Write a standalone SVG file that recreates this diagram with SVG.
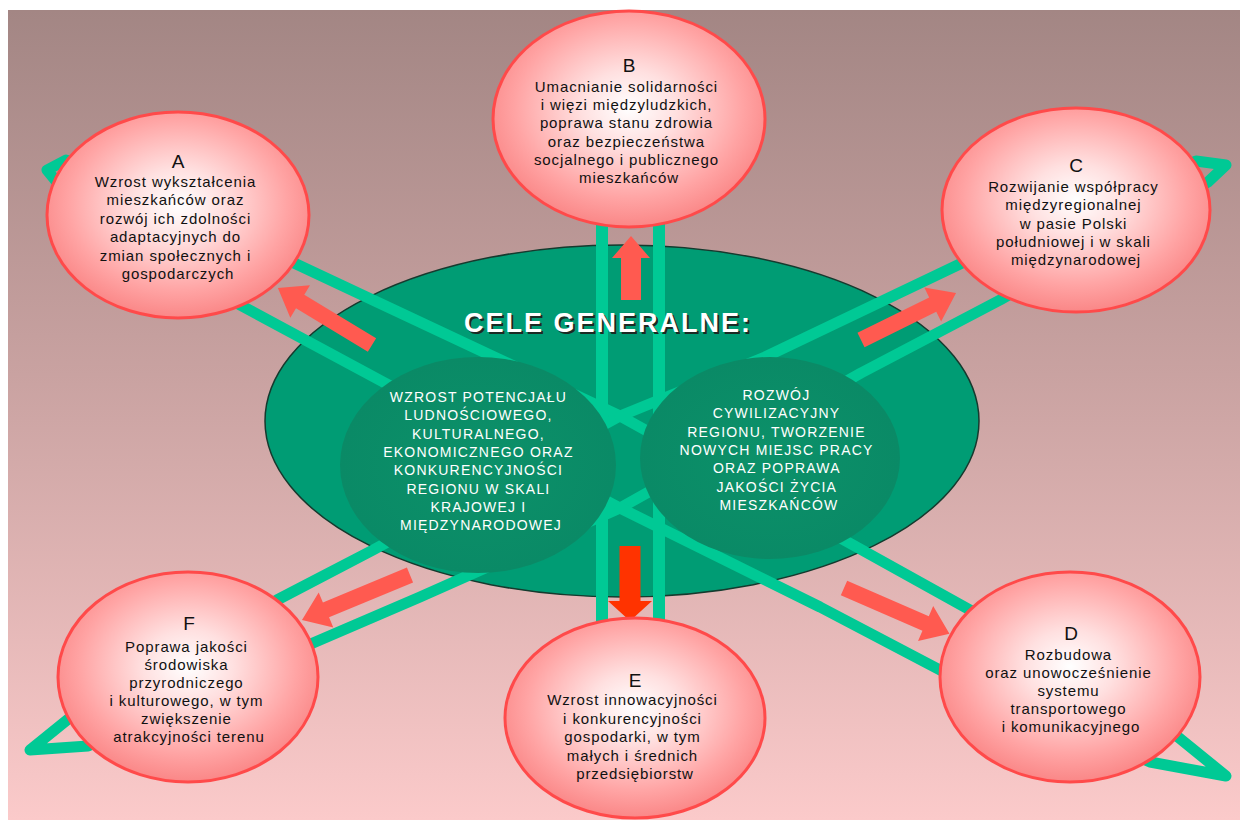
<svg xmlns="http://www.w3.org/2000/svg" width="1240" height="820" viewBox="0 0 1240 820">
<defs>
<linearGradient id="bg" x1="0" y1="0" x2="0" y2="1">
<stop offset="0" stop-color="#a38684"/>
<stop offset="0.45" stop-color="#c9a2a1"/>
<stop offset="1" stop-color="#fbcaca"/>
</linearGradient>
<radialGradient id="pink" cx="50%" cy="45%" r="58%">
<stop offset="0" stop-color="#ffffff"/>
<stop offset="0.3" stop-color="#ffe0e0"/>
<stop offset="0.72" stop-color="#ffa4a4"/>
<stop offset="1" stop-color="#f98080"/>
</radialGradient>
<radialGradient id="inner" cx="50%" cy="50%" r="50%">
<stop offset="0" stop-color="#0c9169"/>
<stop offset="1" stop-color="#0a8a66"/>
</radialGradient>
<style>
.goal{fill:url(#pink);stroke:#ff4a4a;stroke-width:3}
.lbl{font-family:"Liberation Sans",Arial,sans-serif;font-size:19px;fill:#111;text-anchor:middle}
.txt{font-family:"Liberation Sans",Arial,sans-serif;font-size:15px;letter-spacing:0.9px;fill:#111;text-anchor:middle}
.wtxt{font-family:"Liberation Sans",Arial,sans-serif;font-size:14px;letter-spacing:1.2px;fill:#ffffff;text-anchor:middle}
.loop{fill:none;stroke:#00c995;stroke-width:11;stroke-linejoin:round;stroke-linecap:round}
.vert{fill:none;stroke:#00c995;stroke-width:12}
.arr{fill:#ff5a50}
.arrE{fill:#ff3300}
.title{font-family:"Liberation Sans",Arial,sans-serif;font-size:27px;font-weight:bold;letter-spacing:2px;text-anchor:middle}
</style>
</defs>

<rect x="0" y="0" width="1240" height="820" fill="#ffffff"/>
<rect x="8" y="10" width="1232" height="810" fill="url(#bg)"/>

<g id="center-ellipse">
<ellipse cx="622" cy="421" rx="357" ry="176" fill="#009c74" stroke="#153a2e" stroke-width="1.5"/>
</g>

<g id="connectors">
<path class="loop" d="M620,416 L490,355 L294,263 L66,160 L47,170 L60,186 L240,305 L385,383 L620,508"/>
<path class="loop" d="M620,416 L765,357 L962,263 L1196,161 L1226,165 L1208,182 L1000,300 L861,373 L620,508"/>
<path class="loop" d="M620,416 L373,550 L277,600 L72,716 L30,750 L88,746 L313,643 L420,597 L620,508"/>
<path class="loop" d="M620,416 L853,545 L970,610 L1178,737 L1226,776 L1150,762 L940,670 L820,607 L620,508"/>
<path class="vert" d="M602,215 L602,630"/>
<path class="vert" d="M659,215 L659,630"/>
</g>

<g id="goal-left">
<ellipse cx="478" cy="465" rx="138" ry="108" fill="url(#inner)"/>
<text class="wtxt">
<tspan x="481" y="402">WZROST POTENCJAŁU</tspan>
<tspan x="481" y="420.3">LUDNOŚCIOWEGO,</tspan>
<tspan x="481" y="438.6">KULTURALNEGO,</tspan>
<tspan x="481" y="456.9">EKONOMICZNEGO ORAZ</tspan>
<tspan x="481" y="475.2">KONKURENCYJNOŚCI</tspan>
<tspan x="481" y="493.5">REGIONU W SKALI</tspan>
<tspan x="481" y="511.8">KRAJOWEJ I</tspan>
<tspan x="481" y="530.1">MIĘDZYNARODOWEJ</tspan>
</text>
</g>

<g id="goal-right">
<ellipse cx="770" cy="458" rx="130" ry="101" fill="url(#inner)"/>
<text class="wtxt">
<tspan x="779" y="400">ROZWÓJ</tspan>
<tspan x="779" y="418.3">CYWILIZACYJNY</tspan>
<tspan x="779" y="436.6">REGIONU, TWORZENIE</tspan>
<tspan x="779" y="454.9">NOWYCH MIEJSC PRACY</tspan>
<tspan x="779" y="473.2">ORAZ POPRAWA</tspan>
<tspan x="779" y="491.5">JAKOŚCI ŻYCIA</tspan>
<tspan x="779" y="509.8">MIESZKAŃCÓW</tspan>
</text>
</g>

<g id="center-title">
<text class="title" x="610" y="334" fill="#1b2a24">CELE GENERALNE:</text>
<text class="title" x="608" y="332" fill="#ffffff">CELE GENERALNE:</text>
</g>

<g id="arrows">
<polygon class="arr" points="0,-8 84,-8 84,-19 110,0 84,19 84,8 0,8" transform="translate(372,345) rotate(211.2)"/>
<polygon class="arr" points="0,-10 42,-10 42,-19 64,0 42,19 42,10 0,10" transform="translate(631,300) rotate(-90)"/>
<polygon class="arr" points="0,-8 80,-8 80,-19 106,0 80,19 80,8 0,8" transform="translate(861,340) rotate(-26.3)"/>
<polygon class="arr" points="0,-8 89,-8 89,-19 115,0 89,19 89,8 0,8" transform="translate(844,588) rotate(23.5)"/>
<polygon class="arrE" points="0,-10.5 55,-10.5 55,-22 75,0 55,22 55,10.5 0,10.5" transform="translate(630,546) rotate(90)"/>
<polygon class="arr" points="0,-8 91,-8 91,-19 117,0 91,19 91,8 0,8" transform="translate(410,575) rotate(157.4)"/>
</g>

<g id="node-A">
<ellipse class="goal" cx="178" cy="215" rx="131" ry="103"/>
<text class="lbl" x="178" y="168">A</text>
<text class="txt">
<tspan x="178" y="187">Wzrost wykształcenia</tspan>
<tspan x="178" y="205.4">mieszkańców oraz</tspan>
<tspan x="178" y="223.8">rozwój ich zdolności</tspan>
<tspan x="178" y="242.2">adaptacyjnych do</tspan>
<tspan x="178" y="260.6">zmian społecznych i</tspan>
<tspan x="178" y="279">gospodarczych</tspan>
</text>
</g>

<g id="node-B">
<ellipse class="goal" cx="629" cy="119" rx="136" ry="108"/>
<text class="lbl" x="629" y="72">B</text>
<text class="txt">
<tspan x="629" y="92">Umacnianie solidarności</tspan>
<tspan x="629" y="110.2">i więzi międzyludzkich,</tspan>
<tspan x="629" y="128.4">poprawa stanu zdrowia</tspan>
<tspan x="629" y="146.6">oraz bezpieczeństwa</tspan>
<tspan x="629" y="164.8">socjalnego i publicznego</tspan>
<tspan x="629" y="183">mieszkańców</tspan>
</text>
</g>

<g id="node-C">
<ellipse class="goal" cx="1076" cy="210" rx="134" ry="102"/>
<text class="lbl" x="1076" y="172">C</text>
<text class="txt">
<tspan x="1076" y="192">Rozwijanie współpracy</tspan>
<tspan x="1076" y="210.3">międzyregionalnej</tspan>
<tspan x="1076" y="228.6">w pasie Polski</tspan>
<tspan x="1076" y="246.9">południowej i w skali</tspan>
<tspan x="1076" y="265.2">międzynarodowej</tspan>
</text>
</g>

<g id="node-D">
<ellipse class="goal" cx="1070" cy="677" rx="130" ry="105"/>
<text class="lbl" x="1071" y="640">D</text>
<text class="txt">
<tspan x="1071" y="660">Rozbudowa</tspan>
<tspan x="1071" y="678">oraz unowocześnienie</tspan>
<tspan x="1071" y="696">systemu</tspan>
<tspan x="1071" y="714">transportowego</tspan>
<tspan x="1071" y="732">i komunikacyjnego</tspan>
</text>
</g>

<g id="node-E">
<ellipse class="goal" cx="635" cy="718" rx="130" ry="100"/>
<text class="lbl" x="635" y="687">E</text>
<text class="txt">
<tspan x="635" y="705">Wzrost innowacyjności</tspan>
<tspan x="635" y="723.5">i konkurencyjności</tspan>
<tspan x="635" y="742">gospodarki, w tym</tspan>
<tspan x="635" y="760.5">małych i średnich</tspan>
<tspan x="635" y="779">przedsiębiorstw</tspan>
</text>
</g>

<g id="node-F">
<ellipse class="goal" cx="188" cy="677" rx="130" ry="105"/>
<text class="lbl" x="189" y="630">F</text>
<text class="txt">
<tspan x="189" y="652">Poprawa jakości</tspan>
<tspan x="189" y="670">środowiska</tspan>
<tspan x="189" y="688">przyrodniczego</tspan>
<tspan x="189" y="706">i kulturowego, w tym</tspan>
<tspan x="189" y="724">zwiększenie</tspan>
<tspan x="189" y="742">atrakcyjności terenu</tspan>
</text>
</g>
</svg>
